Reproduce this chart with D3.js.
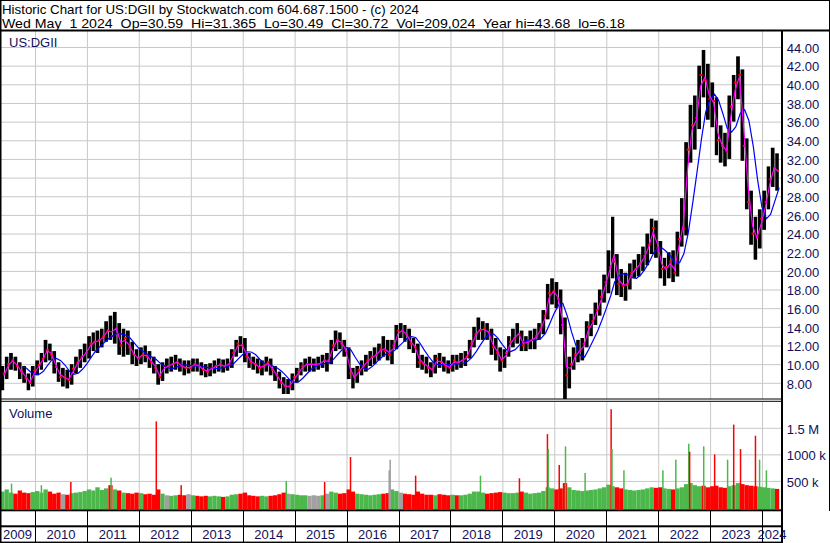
<!DOCTYPE html>
<html><head><meta charset="utf-8">
<script src="https://cdn.jsdelivr.net/npm/d3@7"></script>
<style>
body{margin:0;background:#fff}
svg{display:block}
text{font-family:Arial,"Liberation Sans",sans-serif}
</style>
</head><body>
<svg id="c" width="830" height="543"></svg>
<script>
// ---------------- DATA (monthly, May 2009 .. Apr 2024) ----------------
const firstMonth = [2009, 4]; // May 2009 (JS month index)
const high = [
 9.8,10.8,11.2,10.8,10.2,9.8,9.0,9.8,
 10.4,11.2,12.6,12.2,11.4,10.2,9.6,9.4,10.0,10.8,11.6,12.2,
 13.0,13.4,13.6,13.8,14.6,15.2,15.6,14.4,13.8,13.6,12.4,11.6,
 11.8,12.0,11.4,10.8,10.0,10.2,10.6,10.8,11.0,10.6,10.4,10.4,
 10.6,10.6,10.2,10.0,10.1,10.4,10.6,10.5,10.6,11.6,12.6,13.0,
 12.8,11.2,10.8,10.6,10.4,10.8,10.6,9.8,9.2,8.6,8.4,9.0,
 9.6,10.2,10.6,10.8,10.6,10.8,11.0,11.2,12.6,13.6,13.4,12.6,
 11.8,9.6,9.8,10.4,11.0,11.4,11.8,12.2,13.0,12.6,12.6,14.2,
 14.4,14.2,13.8,12.8,12.2,11.0,10.8,10.2,11.0,11.2,10.8,10.4,
 11.0,11.0,11.2,11.4,12.6,14.0,15.0,14.6,14.4,13.8,12.8,11.8,
 11.6,13.0,13.8,14.4,13.6,13.0,13.6,13.8,14.4,15.8,18.6,19.2,
 18.8,18.0,15.0,10.8,11.8,12.6,12.8,14.6,15.4,16.6,18.0,19.6,
 22.2,25.8,21.8,20.2,19.8,20.8,21.2,21.8,22.6,24.0,25.6,25.4,
 23.2,21.4,22.0,22.2,24.2,27.8,33.8,37.8,38.8,42.0,43.68,42.2,
 40.2,38.6,35.6,34.8,38.8,41.0,43.0,41.6,34.2,28.6,25.8,26.6,
 28.6,31.2,33.2,32.6
];
const low = [
 7.2,8.4,9.4,9.3,8.4,8.0,7.2,7.6,
 8.8,9.4,10.2,10.4,9.0,8.1,7.6,7.4,7.8,9.0,9.6,10.2,
 10.6,11.4,11.2,11.8,12.4,12.6,12.2,11.0,10.8,11.0,10.0,9.8,
 10.0,10.2,9.6,9.0,7.8,8.2,9.0,9.2,9.4,9.2,8.8,9.0,
 9.2,9.2,8.8,8.6,8.7,9.0,9.2,9.1,9.3,9.6,10.8,11.2,
 10.2,9.6,9.4,9.0,8.8,9.2,8.8,8.2,7.4,6.8,6.8,7.2,
 8.0,8.8,9.2,9.2,9.2,9.4,9.6,9.2,10.0,11.4,11.6,10.8,
 8.4,7.4,8.0,8.8,9.2,9.8,10.0,10.4,10.8,10.4,10.0,11.6,
 12.8,12.4,11.6,11.2,9.6,9.4,9.0,8.6,9.0,9.6,9.2,9.0,
 9.2,9.4,9.6,9.8,10.6,11.8,12.6,12.6,12.6,11.0,10.4,9.2,
 9.6,10.8,11.8,12.2,11.4,11.4,11.6,11.6,12.6,13.2,14.8,16.4,
 16.0,13.2,6.18,7.4,9.4,10.2,10.4,11.8,13.0,14.2,15.2,16.6,
 17.6,19.2,17.4,17.2,16.8,18.0,19.2,19.4,20.0,20.6,21.8,21.4,
 19.2,18.4,19.2,18.8,19.4,22.6,23.8,31.6,33.0,35.2,38.6,36.2,
 35.4,32.4,31.6,31.2,32.0,36.0,38.4,31.8,26.6,22.8,21.2,22.4,
 24.4,26.6,29.0,28.6
];
const close = [
 9.0,10.0,10.4,9.8,9.2,8.5,8.0,9.3,
 9.9,10.6,11.5,11.0,9.7,8.6,8.6,8.3,9.5,10.2,10.8,11.2,
 12.2,12.4,12.6,13.0,13.6,13.0,13.8,12.0,12.8,11.8,11.0,10.6,
 11.0,10.8,10.2,9.6,8.6,9.8,9.8,10.0,10.2,9.8,9.6,9.6,
 10.0,9.8,9.4,9.2,9.6,9.8,10.0,9.8,10.0,11.2,12.2,12.0,
 10.8,10.2,10.0,9.6,9.8,10.2,9.4,8.8,8.0,7.6,7.6,8.6,
 9.2,9.8,10.0,10.0,10.0,10.0,10.4,10.4,12.0,12.6,12.2,11.4,
 9.0,8.6,9.4,9.8,10.4,10.8,11.0,11.6,11.4,11.0,12.0,13.6,
 13.6,13.2,12.2,11.8,10.2,10.0,9.6,9.4,10.6,10.2,9.8,9.6,
 10.4,10.2,10.4,10.8,12.2,13.2,13.6,13.8,13.4,11.8,11.2,10.4,
 11.2,12.4,12.8,13.2,12.0,12.4,12.6,13.0,13.8,15.2,17.6,17.8,
 17.0,14.2,8.8,10.0,11.0,11.4,12.2,14.0,14.6,15.8,17.2,18.8,
 20.4,21.0,18.6,18.4,18.6,19.8,20.2,20.8,21.6,22.8,24.6,22.4,
 20.2,20.4,21.0,19.8,23.4,24.6,33.0,35.6,36.4,41.0,40.4,38.4,
 38.2,34.0,33.4,32.8,37.6,40.2,41.0,33.4,27.4,24.0,23.6,25.6,
 27.4,29.8,31.0,30.72
];
// typical monthly volume level, thousands of shares
const volume = [
 300,340,280,260,320,280,270,290,
 310,280,340,300,260,280,250,240,270,280,290,310,
 340,320,380,330,360,420,340,320,280,270,260,280,
 270,250,260,240,340,260,230,220,230,240,230,250,
 230,220,210,220,210,220,210,200,210,240,250,260,
 280,230,220,210,220,210,220,230,250,280,260,250,
 240,230,230,220,230,220,230,260,300,280,260,270,
 340,300,260,250,240,230,240,250,260,270,340,310,
 280,260,250,240,300,260,240,240,230,250,240,230,
 240,230,230,240,260,300,300,280,260,270,280,290,
 280,270,270,280,300,280,260,270,280,310,380,360,
 340,360,460,380,330,320,310,320,330,340,360,380,
 430,400,380,360,340,330,320,330,340,360,380,370,
 380,360,350,340,360,380,440,460,420,400,410,380,
 400,410,380,370,400,420,460,440,420,410,400,390,
 380,370,360,350
];
// single heavy-volume days: date, thousands, direction
const spikeDates = ["2009-07-20","2010-02-15","2010-09-10","2011-06-20","2012-05-03","2012-10-25","2014-11-03","2015-07-31","2016-01-29","2016-10-27","2016-11-03","2017-05-01","2018-07-31","2019-05-01","2019-11-14","2019-11-20","2020-02-05","2020-03-20","2020-08-05","2021-02-04","2021-02-10","2021-05-05","2022-02-03","2022-05-05","2022-08-04","2022-08-10","2022-11-17","2023-02-02","2023-05-04","2023-06-16","2023-08-03","2023-11-16","2023-12-15","2024-02-01"];
const spikeVol   = [450,420,480,560,1620,420,500,480,950,700,900,600,600,550,1380,1100,800,1150,650,1850,1100,700,700,900,1200,1050,1150,1000,900,1560,1100,1350,900,700];
const spikeDir   = ["up","up","down","up","down","down","up","down","down","flat","flat","down","up","down","down","up","down","up","up","down","up","up","up","up","up","down","up","down","up","down","down","down","up","up"];

const priceTicks = [8,10,12,14,16,18,20,22,24,26,28,30,32,34,36,38,40,42,44];
const volTicks = [500000,1000000,1500000];
const volTickLabels = ["500 k","1000 k","1.5 M"];
const yearLabels = [2009,2010,2011,2012,2013,2014,2015,2016,2017,2018,2019,2020,2021,2022,2023,2024];
const header1 = "Historic Chart for US:DGII by Stockwatch.com 604.687.1500 - (c) 2024";
const header2 = "Wed May  1 2024  Op=30.59  Hi=31.365  Lo=30.49  Cl=30.72  Vol=209,024  Year hi=43.68  lo=6.18";
const symbol = "US:DGII";

// ---------------- LAYOUT ----------------
const svg = d3.select("#c");
const plotR = 781, pTop = 31, pBot = 399, vTop = 402, vBot = 509;
const x = d3.scaleTime().domain([new Date(2010,0,1), new Date(2024,0,1)]).range([35,762]);
const yP = d3.scaleLinear().domain([8,44]).range([382.8,47]);
const yV = d3.scaleLinear().domain([0,1500000]).range([507.5,427.8]);
const endDate = new Date(2024,4,1);
const mStart = i => new Date(firstMonth[0], firstMonth[1]+i, 1);
const mEnd = i => { const d = new Date(firstMonth[0], firstMonth[1]+i+1, 1); return d > endDate ? endDate : d; };
const yearStarts = d3.range(2010,2025).map(y=>new Date(y,0,1));
const grid = "#c8c8c8";

const defs = svg.append("defs");
defs.append("clipPath").attr("id","cp").append("rect").attr("x",0).attr("y",pTop).attr("width",plotR).attr("height",pBot-pTop);
defs.append("clipPath").attr("id","cv").append("rect").attr("x",0).attr("y",vTop).attr("width",plotR).attr("height",vBot-vTop);

// gridlines price
svg.append("g").attr("transform",`translate(${plotR},0)`)
  .call(d3.axisLeft(yP).tickValues(priceTicks).tickSize(plotR).tickFormat(""))
  .call(g=>{g.select(".domain").remove(); g.selectAll("line").attr("stroke",grid);});
// gridlines volume
svg.append("g").attr("transform",`translate(${plotR},0)`)
  .call(d3.axisLeft(yV).tickValues(volTicks).tickSize(plotR).tickFormat(""))
  .call(g=>{g.select(".domain").remove(); g.selectAll("line").attr("stroke",grid);});
// vertical year gridlines
svg.append("g").attr("transform",`translate(0,${pBot})`)
  .call(d3.axisTop(x).tickValues(yearStarts).tickSize(pBot-pTop).tickFormat(""))
  .call(g=>{g.select(".domain").remove(); g.selectAll("line").attr("stroke",grid);});
svg.append("g").attr("transform",`translate(0,${vBot})`)
  .call(d3.axisTop(x).tickValues(yearStarts).tickSize(vBot-vTop).tickFormat(""))
  .call(g=>{g.select(".domain").remove(); g.selectAll("line").attr("stroke",grid);});

// ---------------- VOLUME ----------------
const colUp = "#4cb84c", colDn = "#ff0000", colFlat = "#a0a0a0";
const gv = svg.append("g").attr("clip-path","url(#cv)");
gv.selectAll("rect.vb").data(volume).join("rect").attr("class","vb")
  .attr("x",(d,i)=>x(mStart(i)))
  .attr("width",(d,i)=>x(mEnd(i))-x(mStart(i)))
  .attr("y",d=>yV(d*1000)).attr("height",d=>vBot-yV(d*1000))
  .attr("fill",(d,i)=> i===0 ? colUp : close[i]>close[i-1] ? colUp : close[i]<close[i-1] ? colDn : colFlat);
const parse = d3.timeParse("%Y-%m-%d");
gv.selectAll("rect.vs").data(spikeDates).join("rect").attr("class","vs")
  .attr("x",d=>x(parse(d))-0.75).attr("width",1.5)
  .attr("y",(d,i)=>yV(spikeVol[i]*1000)).attr("height",(d,i)=>vBot-yV(spikeVol[i]*1000))
  .attr("fill",(d,i)=>spikeDir[i]==="up"?colUp:spikeDir[i]==="down"?colDn:colFlat);

// ---------------- PRICE ----------------
const gp = svg.append("g").attr("clip-path","url(#cp)");
const bx = i => x(mStart(i)), bw = i => x(mEnd(i)) - x(mStart(i));
gp.selectAll("rect.pb").data(high).join("rect").attr("class","pb")
  .attr("x",(d,i)=>bx(i)+0.3)
  .attr("width",(d,i)=>Math.max(1,bw(i)-0.7))
  .attr("y",d=>yP(d)).attr("height",(d,i)=>yP(low[i])-yP(d))
  .attr("fill","#000");
// open (previous close) and close ticks
gp.selectAll("rect.ot").data(close).join("rect").attr("class","ot")
  .attr("x",(d,i)=>bx(i)-0.6).attr("width",1.6)
  .attr("y",(d,i)=>yP(i>0?close[i-1]:d)-1).attr("height",2).attr("fill","#ff0000");
gp.selectAll("rect.ct").data(close).join("rect").attr("class","ct")
  .attr("x",(d,i)=>bx(i)+bw(i)-1.8).attr("width",1.6)
  .attr("y",d=>yP(d)-1).attr("height",2).attr("fill","#ff0000");
// moving averages derived from the monthly bars (~20-day and ~100-day)
const tp = high.map((h,i)=>(h+low[i]+2*close[i])/4);
const fast = tp.map((v,i)=>({d:new Date((mStart(i).getTime()+mEnd(i).getTime())/2 + 10*864e5), v}));
const slow = tp.map((v,i)=> i<4 ? null : ({d:mEnd(i), v:(0.6*tp[i-4]+tp[i-3]+tp[i-2]+tp[i-1]+tp[i])/4.6})).filter(Boolean);
const line = d3.line().x(d=>x(d.d)).y(d=>yP(d.v));
gp.append("path").datum(slow).attr("d",line).attr("fill","none").attr("stroke","#0000ff").attr("stroke-width",1.2);
gp.append("path").datum(fast).attr("d",line).attr("fill","none").attr("stroke","#ff00ff").attr("stroke-width",1.2);

// ---------------- FRAME ----------------
const blk = "#000";
svg.append("rect").attr("x",0).attr("y",29.5).attr("width",830).attr("height",2).attr("fill",blk);
svg.append("rect").attr("x",0).attr("y",398.5).attr("width",plotR+1).attr("height",1).attr("fill",blk);
svg.append("rect").attr("x",0).attr("y",400.8).attr("width",plotR+1).attr("height",1).attr("fill",blk);
svg.append("rect").attr("x",0).attr("y",509.3).attr("width",plotR+2).attr("height",2).attr("fill",blk);
svg.append("rect").attr("x",0).attr("y",525.3).attr("width",plotR+2).attr("height",2).attr("fill",blk);
svg.append("rect").attr("x",0).attr("y",541.6).attr("width",plotR+2).attr("height",1.4).attr("fill",blk);
svg.append("rect").attr("x",plotR).attr("y",30).attr("width",2).attr("height",513).attr("fill",blk);
svg.append("rect").attr("x",0).attr("y",0).attr("width",1.5).attr("height",543).attr("fill",blk);
svg.append("rect").attr("x",0).attr("y",0).attr("width",830).attr("height",1).attr("fill",blk);
svg.append("rect").attr("x",829).attr("y",0).attr("width",1).attr("height",511).attr("fill",blk);
// year boundary ticks in the date strip
svg.append("g").selectAll("line").data(yearStarts).join("line")
  .attr("x1",d=>Math.round(x(d))+0.5).attr("x2",d=>Math.round(x(d))+0.5)
  .attr("y1",511).attr("y2",542).attr("stroke",blk);

// ---------------- TEXT ----------------
const labCol = "#10105a";
svg.append("text").attr("x",2).attr("y",14).attr("font-size",13).attr("fill","#000")
  .attr("textLength",417).attr("lengthAdjust","spacingAndGlyphs").text(header1);
svg.append("text").attr("x",2).attr("y",28).attr("font-size",13).attr("fill","#000")
  .style("white-space","pre").attr("textLength",623).attr("lengthAdjust","spacingAndGlyphs").text(header2);
svg.append("text").attr("x",9).attr("y",46.5).attr("font-size",13).attr("fill",labCol).text(symbol);
svg.append("text").attr("x",9).attr("y",418.3).attr("font-size",13).attr("fill",labCol).text("Volume");

svg.append("g").attr("transform",`translate(${plotR+1},0)`)
  .call(d3.axisRight(yP).tickValues(priceTicks).tickSize(0).tickPadding(4.7).tickFormat(d3.format(".2f")))
  .call(g=>{g.select(".domain").remove(); g.selectAll("text").attr("font-size",13).attr("font-family",null).attr("fill",labCol).attr("dy","0.4em");});
svg.append("g").attr("transform",`translate(${plotR+1},0)`)
  .call(d3.axisRight(yV).tickValues(volTicks).tickSize(0).tickPadding(4.7).tickFormat((d,i)=>volTickLabels[i]))
  .call(g=>{g.select(".domain").remove(); g.selectAll("text").attr("font-size",13).attr("font-family",null).attr("fill",labCol).attr("dy","0.4em");});

svg.append("g").selectAll("text").data(yearLabels).join("text")
  .attr("x",d=>{const a=Math.max(0,x(new Date(d,0,1))), b=Math.min(plotR+1,x(new Date(d+1,0,1))); return (a+b)/2;})
  .attr("y",539.2).attr("text-anchor","middle").attr("font-size",13).attr("fill",labCol).text(d=>d);
</script>
</body></html>
